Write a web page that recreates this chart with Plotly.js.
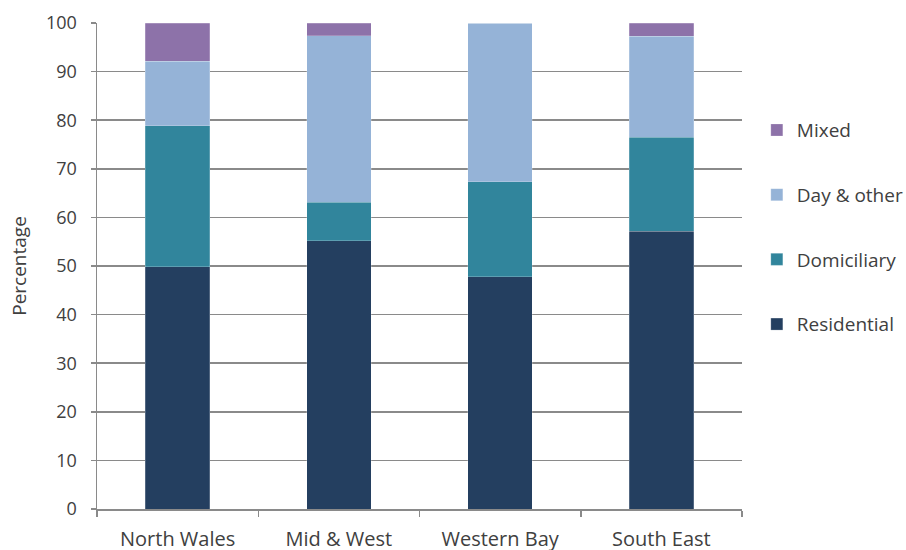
<!DOCTYPE html>
<html>
<head>
<meta charset="utf-8">
<script src="https://cdn.plot.ly/plotly-3.0.1.min.js"></script>
<style>
  html, body { margin: 0; padding: 0; background: #ffffff; }
  #chart { width: 906px; height: 550px; }
</style>
</head>
<body>
<div id="chart"></div>
<script>
// Share of care type by region (percentage)
const regions = ["North Wales", "Mid & West", "Western Bay", "South East"];
const residential = [49.8, 55.2, 47.8, 57.2];
const domiciliary = [29.1, 7.9, 19.5, 19.3];
const dayOther = [13.2, 34.3, 32.7, 20.8];
const mixed = [7.9, 2.6, 0, 2.7];

const seriesNames = ["Residential", "Domiciliary", "Day & other", "Mixed"];
const seriesValues = [residential, domiciliary, dayOther, mixed];
const seriesColors = ["#243F60", "#31859C", "#95B3D7", "#8D72A9"];

// stacked bottom-to-top; legend lists the top segment first
const traces = seriesValues.map((vals, i) => ({
  type: "bar",
  name: seriesNames[i],
  x: regions,
  y: vals,
  legendgroup: "g" + i,
  legendrank: seriesValues.length - i,
  marker: { color: seriesColors[i], line: { color: "rgba(255,255,255,0.35)", width: 0.6 } },
  hoverinfo: "x+y+name"
}));

const fam = "Open Sans, Noto Sans, sans-serif";
const ink = "#404040";
const axisGrey = "#8a8a8a";

const layout = {
  width: 906,
  height: 550,
  margin: { l: 97, r: 164, t: 23, b: 41, autoexpand: false },
  paper_bgcolor: "#ffffff",
  plot_bgcolor: "#ffffff",
  barmode: "stack",
  bargap: 0.6,
  font: { family: fam, size: 18, color: ink },
  showlegend: true,
  legend: {
    x: 1.023, xanchor: "left",
    y: 0.58, yanchor: "middle",
    traceorder: "grouped",
    tracegroupgap: 37,
    font: { family: fam, size: 19, color: ink },
    itemwidth: 30
  },
  xaxis: {
    showline: true, linecolor: axisGrey, linewidth: 1.5,
    ticks: "outside", tickson: "boundaries", ticklen: 6, tickcolor: axisGrey, tickwidth: 1.5,
    showgrid: false,
    tickfont: { family: fam, size: 20, color: ink },
    ticklabelstandoff: 11
  },
  yaxis: {
    range: [0, 100], dtick: 10, tick0: 0,
    showline: true, linecolor: axisGrey, linewidth: 1.5,
    ticks: "outside", ticklen: 5, tickcolor: axisGrey, tickwidth: 1.5,
    showgrid: true, gridcolor: axisGrey, gridwidth: 1.5,
    zeroline: false,
    tickfont: { family: fam, size: 18, color: ink },
    ticklabelstandoff: 10,
    title: { text: "Percentage", font: { family: fam, size: 19, color: ink }, standoff: 14 }
  }
};

Plotly.newPlot("chart", traces, layout, { displayModeBar: false, staticPlot: true });
</script>
</body>
</html>
